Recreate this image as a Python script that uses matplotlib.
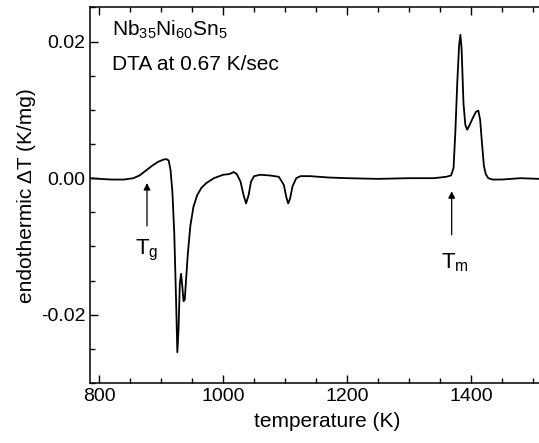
import matplotlib
matplotlib.use("Agg")
import matplotlib.pyplot as plt
from matplotlib.ticker import MultipleLocator

plt.rcParams['font.family'] = ['Liberation Sans', 'DejaVu Sans']
plt.rcParams['mathtext.fontset'] = 'custom'
plt.rcParams['mathtext.rm'] = 'Liberation Sans'

# DTA trace
temperature = [785, 800, 820, 840, 855, 865, 875, 885, 895, 903, 908, 912, 915, 918,
               921, 924, 926, 928, 930, 932, 934, 936, 938, 940, 943, 947, 952, 958,
               965, 973, 985, 1000, 1010, 1017, 1022, 1028, 1033, 1037, 1041, 1045,
               1050, 1060, 1075, 1090, 1098, 1102, 1105, 1108, 1112, 1118, 1125, 1140,
               1170, 1200, 1250, 1300, 1340, 1360, 1368, 1372, 1375, 1378, 1381, 1383,
               1385, 1388, 1391, 1394, 1398, 1403, 1408, 1412, 1415, 1418, 1421, 1424,
               1428, 1435, 1450, 1480, 1510, 1550]
delta_t = [0.0, -0.0001, -0.0002, -0.0002, 0.0, 0.0004, 0.0011, 0.0018, 0.0024, 0.0027,
           0.0028, 0.0026, 0.0012, -0.0020, -0.008, -0.018, -0.0255, -0.022, -0.0155,
           -0.0140, -0.0158, -0.0180, -0.0178, -0.0150, -0.011, -0.0070, -0.0042,
           -0.0025, -0.0014, -0.0007, 0.0, 0.0005, 0.0006, 0.0009, 0.0006, -0.0005,
           -0.0025, -0.0037, -0.0025, -0.0005, 0.0003, 0.0005, 0.0004, 0.0002, -0.0010,
           -0.0028, -0.0037, -0.0030, -0.0012, 0.0, 0.0003, 0.0003, 0.0001, 0.0,
           -0.0001, 0.0, 0.0, 0.0002, 0.0004, 0.0015, 0.007, 0.014, 0.0195, 0.021,
           0.019, 0.011, 0.0078, 0.0071, 0.0078, 0.0088, 0.0097, 0.0099, 0.0085, 0.005,
           0.0018, 0.0006, 0.0, -0.0002, -0.0002, 0.0, -0.0001, 0.0]

# marked temperatures (glass transition, melting)
t_g = 877
t_m = 1369

fig = plt.figure(figsize=(5.39, 4.43), dpi=100)
ax = fig.add_axes([0.167, 0.1354, 0.879, 0.8477])

ax.plot(temperature, delta_t, color='k', lw=1.3)

ax.set_xlim(785, 1550)
ax.set_ylim(-0.030, 0.025)
ax.xaxis.set_major_locator(MultipleLocator(200))
ax.xaxis.set_minor_locator(MultipleLocator(50))
ax.yaxis.set_major_locator(MultipleLocator(0.02))
ax.yaxis.set_minor_locator(MultipleLocator(0.005))
ax.yaxis.set_major_formatter(plt.FuncFormatter(lambda v, p: f"{v:.2f}"))
ax.tick_params(which='both', direction='in', top=True, right=True, labelsize=14,
               width=1.0)
ax.tick_params(which='major', length=6)
ax.tick_params(which='minor', length=3.5)
for s in ax.spines.values():
    s.set_linewidth(1.1)

ax.set_xlabel('temperature (K)', fontsize=15, labelpad=5)
ax.set_ylabel('endothermic \u0394T (K/mg)', fontsize=15, labelpad=3)

ax.text(0.046, 0.94, r'Nb$_\mathregular{35}$Ni$_\mathregular{60}$Sn$_\mathregular{5}$',
        transform=ax.transAxes, fontsize=15, va='center')
ax.text(0.046, 0.847, 'DTA at 0.67 K/sec', transform=ax.transAxes,
        fontsize=15, va='center')

arrow = dict(arrowstyle='-|>', color='k', lw=0.9, mutation_scale=10)
ax.annotate('', xy=(t_g, -0.0003), xytext=(t_g, -0.0074), arrowprops=arrow)
ax.annotate('', xy=(t_m, -0.0015), xytext=(t_m, -0.0087), arrowprops=arrow)
ax.text(t_g, -0.0106, r'T$_\mathregular{g}$', fontsize=16, ha='center', va='center')
ax.text(t_m + 5, -0.0124, r'T$_\mathregular{m}$', fontsize=16, ha='center', va='center')

fig.savefig('out.png', dpi=100)
